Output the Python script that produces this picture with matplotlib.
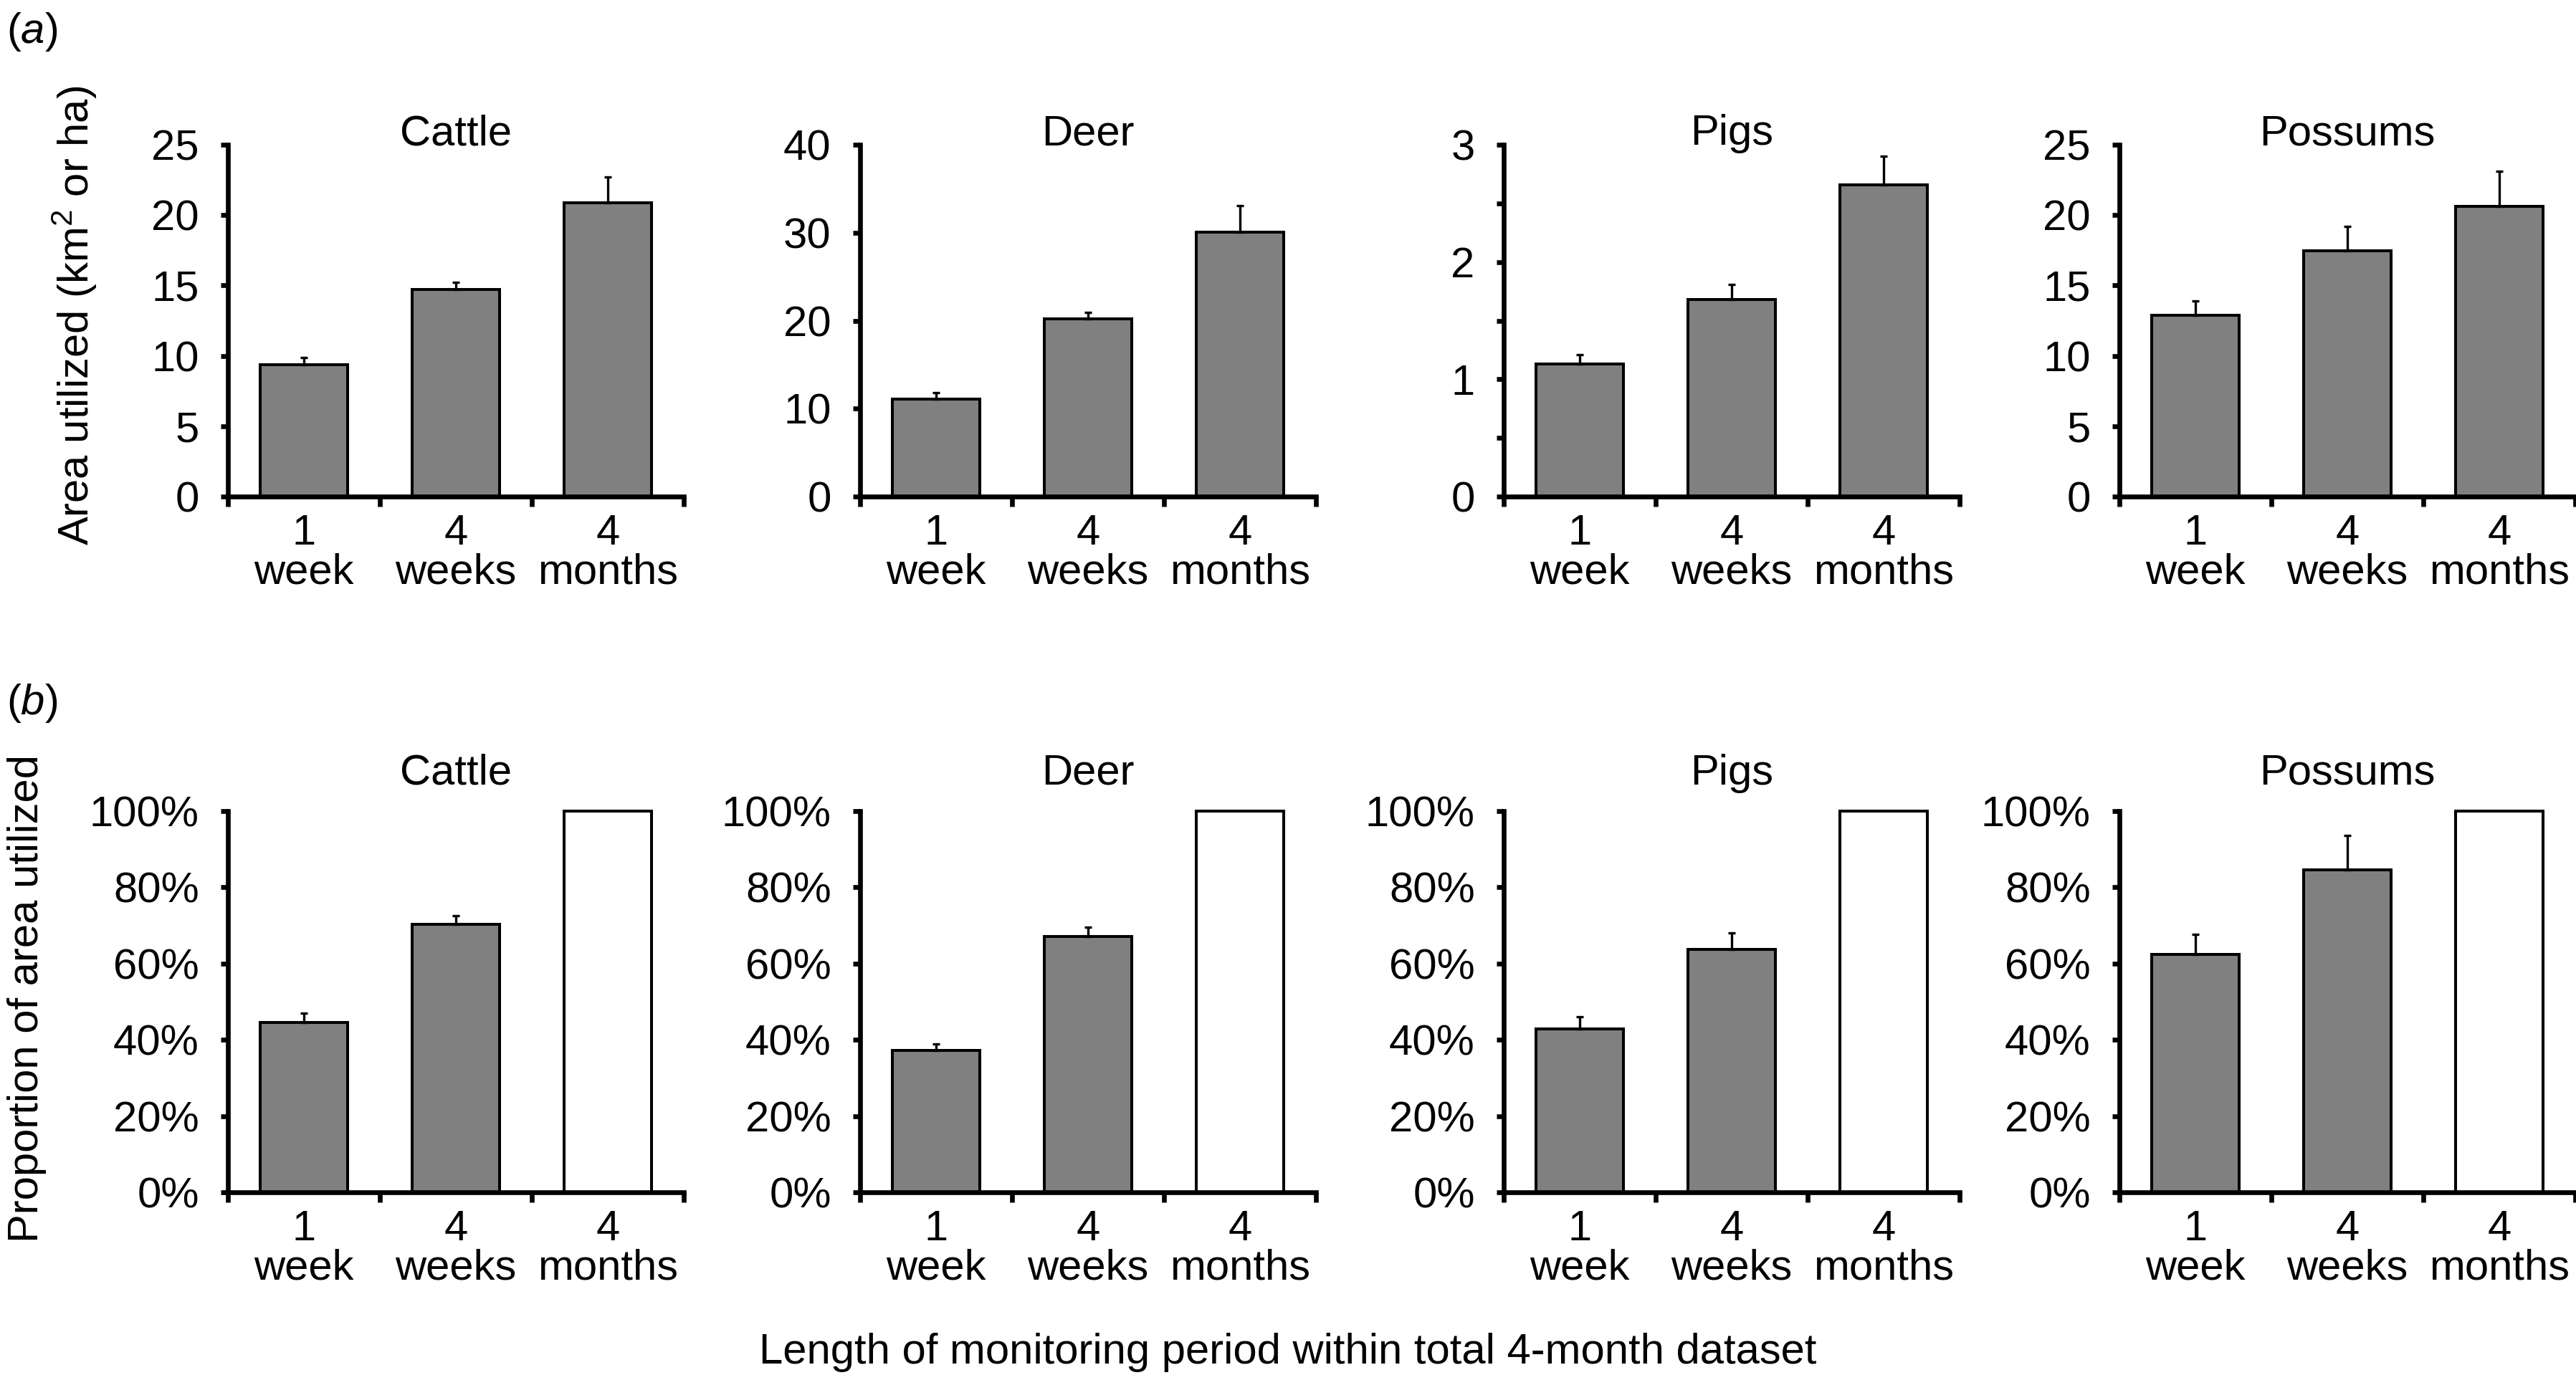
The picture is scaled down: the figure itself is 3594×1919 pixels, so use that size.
import numpy as np
import matplotlib
matplotlib.use("Agg")
import matplotlib.pyplot as plt
from matplotlib import font_manager as fm
from matplotlib.textpath import TextPath

# data
species = ["Cattle", "Deer", "Pigs", "Possums"]
periods = ["1\nweek", "4\nweeks", "4\nmonths"]

area_cattle = [9.35, 14.7, 20.9]
area_deer = [11.1, 20.2, 30.1]
area_pigs = [1.13, 1.68, 2.66]
area_possums = [12.9, 17.45, 20.6]
area_cattle_se = [0.55, 0.5, 1.8]
area_deer_se = [0.7, 0.7, 3.0]
area_pigs_se = [0.08, 0.13, 0.24]
area_possums_se = [1.0, 1.75, 2.5]

prop_cattle = [44.6, 70.3, 100]
prop_deer = [37.2, 67.1, 100]
prop_pigs = [42.9, 63.7, 100]
prop_possums = [62.4, 84.6, 100]
prop_cattle_se = [2.3, 2.2, 0]
prop_deer_se = [1.7, 2.4, 0]
prop_pigs_se = [3.1, 4.4, 0]
prop_possums_se = [5.3, 9.0, 0]

area_ticks = [np.arange(0, 26, 5), np.arange(0, 41, 10), np.arange(0, 3.01, 0.5), np.arange(0, 26, 5)]
prop_ticks = np.arange(0, 101, 20)

# pick a narrow sans if one is there, else plain Liberation Sans
family = "Liberation Sans"
names = set(f.name for f in fm.fontManager.ttflist)
for cand in ["Liberation Sans Narrow", "Arial Narrow", "Nimbus Sans Narrow"]:
  if cand in names:
    family = cand
    break
plt.rcParams['font.family'] = [family, 'DejaVu Sans']
plt.rcParams['mathtext.fontset'] = 'custom'
plt.rcParams['mathtext.rm'] = family
plt.rcParams['mathtext.it'] = family + ':italic'

W, H = 3594, 1919
# size so that "months" is about as wide as in the reference (~190 px)
tp = TextPath((0, 0), "months", size=10, prop=fm.FontProperties(family=family))
w10 = tp.get_extents().width * 100 / 72
FS = min(50, 10 * 190 / w10)

lefts = [318, 1200, 2098, 2957]
AW = 636


def px_axes(fig, left, top, width, height):
  return fig.add_axes([left / W, 1 - (top + height) / H, width / W, height / H])


def draw_panel(ax, vals, errs, ticks, ticklabels, title, title_off, last_white):
  x = np.arange(3) + 0.5
  colors = ["#808080", "#808080", "white" if last_white else "#808080"]
  ax.bar(x, vals, width=0.58, color=colors, edgecolor="black", linewidth=2.9,
         zorder=2, clip_on=False)
  idx = [i for i in range(3) if errs[i] > 0]
  ax.errorbar(x[idx], np.array(vals)[idx],
              yerr=[np.zeros(len(idx)), np.array(errs)[idx]],
              fmt="none", ecolor="black", elinewidth=2.4, capsize=3.6,
              capthick=2.4, zorder=3, clip_on=False)
  ax.set_xlim(0, 3)
  ax.set_ylim(ticks[0], ticks[-1])
  for s in ["top", "right"]:
    ax.spines[s].set_visible(False)
  for s in ["left", "bottom"]:
    ax.spines[s].set_linewidth(4.8)
  ax.set_yticks(ticks)
  ax.set_yticklabels(ticklabels)
  ax.set_xticks([0, 1, 2, 3])
  ax.set_xticklabels([])
  ax.set_xticks(x, minor=True)
  ax.set_xticklabels(periods, minor=True, linespacing=1.0)
  ax.tick_params(axis="y", direction="out", length=7, width=4.8, pad=22, labelsize=FS)
  ax.tick_params(axis="x", which="major", direction="out", length=10, width=4.8)
  ax.tick_params(axis="x", which="minor", length=0, pad=17, labelsize=FS)
  ax.text(0.5, 1 + title_off, title, transform=ax.transAxes, ha="center",
          va="baseline", fontsize=FS)


fig = plt.figure(figsize=(W / 100, H / 100), dpi=100)

area_vals = [area_cattle, area_deer, area_pigs, area_possums]
area_errs = [area_cattle_se, area_deer_se, area_pigs_se, area_possums_se]
prop_vals = [prop_cattle, prop_deer, prop_pigs, prop_possums]
prop_errs = [prop_cattle_se, prop_deer_se, prop_pigs_se, prop_possums_se]

for i in range(4):
  ax = px_axes(fig, lefts[i], 202, AW, 491)
  t = area_ticks[i]
  if i == 2:
    labs = ["%d" % v if v == int(v) else "" for v in t]
  else:
    labs = ["%d" % v for v in t]
  draw_panel(ax, area_vals[i], area_errs[i], t, labs, species[i], 0.0, False)

for i in range(4):
  ax = px_axes(fig, lefts[i], 1132, AW, 532)
  labs = ["%d%%" % v for v in prop_ticks]
  draw_panel(ax, prop_vals[i], prop_errs[i], prop_ticks, labs, species[i], 0.07, True)

fig.text(9 / W, 1 - 15 / H, r"($\mathit{a}$)", ha="left", va="top", fontsize=FS)
fig.text(9 / W, 1 - 952 / H, r"($\mathit{b}$)", ha="left", va="top", fontsize=FS)
fig.text(104 / W, 1 - 440 / H, r"Area utilized (km$^2$ or ha)", rotation=90,
         ha="center", va="center", fontsize=FS)
fig.text(38 / W, 1 - 1394 / H, "Proportion of area utilized", rotation=90,
         ha="center", va="center", fontsize=FS)
fig.text(1797 / W, 1 - 1903 / H, "Length of monitoring period within total 4-month dataset",
         ha="center", va="baseline", fontsize=FS)

fig.savefig("out.png", dpi=100)
